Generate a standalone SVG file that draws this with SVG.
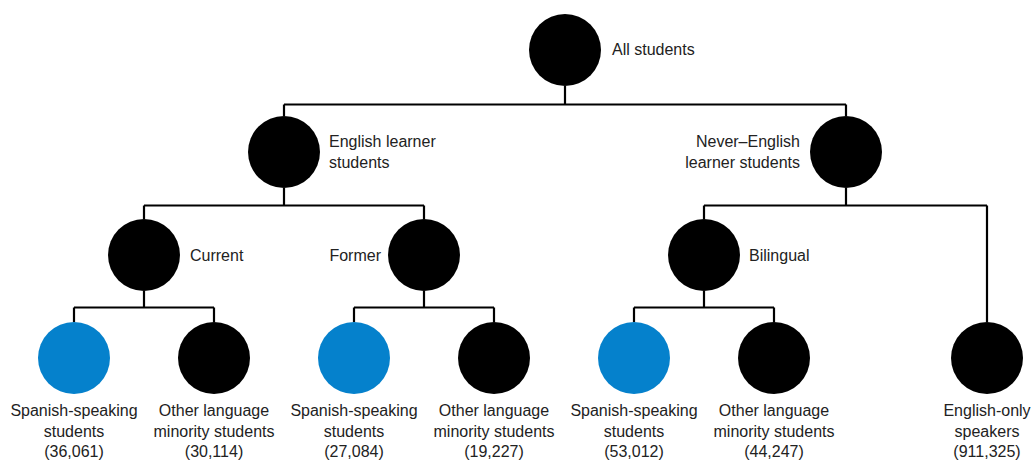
<svg xmlns="http://www.w3.org/2000/svg" width="1031" height="461" viewBox="0 0 1031 461">
<style>
.n{fill:#000}
.b{fill:#0581cc}
.t{font-family:"Liberation Sans",Arial,sans-serif;font-size:16px;fill:#222}
.m{text-anchor:middle}
.e{text-anchor:end}
.c{fill:none;stroke:#000;stroke-width:2.2}
</style>
<rect width="1031" height="461" fill="#fff"/>
<g id="connectors" class="c">
<path d="M565 86V104.5M284 104.5H846M284 104.5V116M846 104.5V116"/>
<path d="M284 188V205.5M144 205.5H424M144 205.5V219M424 205.5V219"/>
<path d="M846 188V205.5M704 205.5H987M704 205.5V219M987 205.5V322"/>
<path d="M144 291V307.5M74 307.5H214M74 307.5V322M214 307.5V322"/>
<path d="M424 291V307.5M354 307.5H494M354 307.5V322M494 307.5V322"/>
<path d="M704 291V307.5M634 307.5H774M634 307.5V322M774 307.5V322"/>
</g>
<g id="all"><circle class="n" cx="565" cy="50" r="36"/><text class="t" x="612" y="54.5">All students</text></g>
<g id="el"><circle class="n" cx="284" cy="152" r="36"/><text class="t" x="329" y="146.5">English learner</text><text class="t" x="329" y="167.5">students</text></g>
<g id="never"><circle class="n" cx="846" cy="152" r="36"/><text class="t e" x="800" y="146.5">Never–English</text><text class="t e" x="800" y="167.5">learner students</text></g>
<g id="current"><circle class="n" cx="144" cy="255" r="36"/><text class="t" x="190" y="260.5">Current</text></g>
<g id="former"><circle class="n" cx="424" cy="255" r="36"/><text class="t e" x="381" y="260.5">Former</text></g>
<g id="bilingual"><circle class="n" cx="704" cy="255" r="36"/><text class="t" x="749" y="260.5">Bilingual</text></g>
<g id="sp1"><circle class="b" cx="74" cy="358" r="36"/><text class="t m" x="74" y="416">Spanish-speaking</text><text class="t m" x="74" y="436.5">students</text><text class="t m" x="74" y="457">(36,061)</text></g>
<g id="ot1"><circle class="n" cx="214" cy="358" r="36"/><text class="t m" x="214" y="416">Other language</text><text class="t m" x="214" y="436.5">minority students</text><text class="t m" x="214" y="457">(30,114)</text></g>
<g id="sp2"><circle class="b" cx="354" cy="358" r="36"/><text class="t m" x="354" y="416">Spanish-speaking</text><text class="t m" x="354" y="436.5">students</text><text class="t m" x="354" y="457">(27,084)</text></g>
<g id="ot2"><circle class="n" cx="494" cy="358" r="36"/><text class="t m" x="494" y="416">Other language</text><text class="t m" x="494" y="436.5">minority students</text><text class="t m" x="494" y="457">(19,227)</text></g>
<g id="sp3"><circle class="b" cx="634" cy="358" r="36"/><text class="t m" x="634" y="416">Spanish-speaking</text><text class="t m" x="634" y="436.5">students</text><text class="t m" x="634" y="457">(53,012)</text></g>
<g id="ot3"><circle class="n" cx="774" cy="358" r="36"/><text class="t m" x="774" y="416">Other language</text><text class="t m" x="774" y="436.5">minority students</text><text class="t m" x="774" y="457">(44,247)</text></g>
<g id="eo"><circle class="n" cx="987" cy="358" r="36"/><text class="t m" x="987" y="416">English-only</text><text class="t m" x="987" y="436.5">speakers</text><text class="t m" x="987" y="457">(911,325)</text></g>
</svg>
